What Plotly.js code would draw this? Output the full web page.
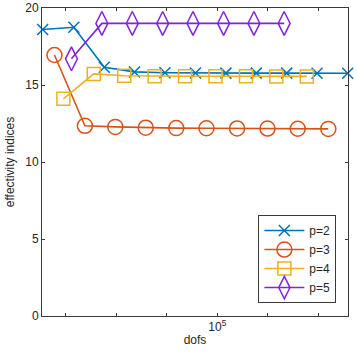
<!DOCTYPE html>
<html>
<head>
<meta charset="utf-8">
<script src="https://cdn.plot.ly/plotly-3.0.1.min.js"></script>
<style>
  html,body{margin:0;padding:0;background:#fff;}
  #chart{width:357px;height:357px;}
</style>
</head>
<body>
<div id="chart"></div>
<script>
// ===== data =====
const dofsP2 = [35, 145, 580, 2300, 9200, 37000, 148000, 590000, 2.36e6, 9.4e6, 3.8e7];
const effP2  = [18.6, 18.75, 16.15, 15.85, 15.8, 15.78, 15.77, 15.77, 15.77, 15.76, 15.76];

const dofsP3 = [60, 240, 960, 3840, 15400, 61000, 246000, 983000, 3.9e6, 1.57e7];
const effP3  = [16.95, 12.35, 12.28, 12.23, 12.2, 12.19, 12.18, 12.17, 12.16, 12.15];

const dofsP4 = [90, 360, 1440, 5760, 23000, 92000, 369000, 1.47e6, 5.9e6];
const effP4  = [14.1, 15.72, 15.6, 15.57, 15.57, 15.57, 15.57, 15.56, 15.56];

const dofsP5 = [130, 520, 2080, 8300, 33000, 133000, 530000, 2.1e6];
const effP5  = [16.7, 19.0, 19.0, 19.0, 19.0, 19.0, 19.0, 19.0];

const seriesNames = ['p=2', 'p=3', 'p=4', 'p=5'];
const xTickVals = [1e2, 1e3, 1e4, 1e5, 1e6, 1e7];
const xTickText = ['', '', '', '10<sup>5</sup>', '', ''];
const yTickVals = [0, 5, 10, 15, 20];

// ===== styling =====
const colors = ['#0072BD', '#D95319', '#EDB120', '#8024DA'];
const axisColor = '#3a3a3a';
const fam = 'Liberation Sans, Arial, Helvetica, sans-serif';
const txt = {family:fam, size:12, color:'#262626'};

function trace(x, y, name, color, symbol, size){
  return {
    type:'scatter', mode:'lines+markers', x, y, name,
    line:{color, width:1.6},
    marker:{symbol, size, color, line:{color, width:1.5}},
    cliponaxis:false
  };
}

const data = [
  trace(dofsP2, effP2, seriesNames[0], colors[0], 'x-thin-open', 11),
  trace(dofsP3, effP3, seriesNames[1], colors[1], 'circle-open', 15),
  trace(dofsP4, effP4, seriesNames[2], colors[2], 'square-open', 13),
  trace(dofsP5, effP5, seriesNames[3], colors[3], 'diamond-tall-open', 17)
];

const layout = {
  width:357, height:357,
  paper_bgcolor:'#fff', plot_bgcolor:'#fff',
  margin:{l:42, r:9, t:8, b:41},
  font:txt,
  showlegend:true,
  legend:{
    x:0.962, y:0.042, xanchor:'right', yanchor:'bottom',
    bgcolor:'#fff', bordercolor:axisColor, borderwidth:1,
    font:{family:fam, size:12, color:'#262626'},
    tracegroupgap:0, itemwidth:40
  },
  xaxis:{
    type:'log', range:[Math.log10(34), Math.log10(3.85e7)],
    tickmode:'array', tickvals:xTickVals, ticktext:xTickText,
    ticks:'inside', ticklen:3, tickcolor:axisColor, tickwidth:1,
    showline:true, linecolor:axisColor, linewidth:1, mirror:'ticks',
    showgrid:false, zeroline:false, automargin:false,
    tickfont:txt,
    title:{text:'dofs', font:txt, standoff:2}
  },
  yaxis:{
    range:[0, 20],
    tickmode:'array', tickvals:yTickVals,
    ticks:'inside', ticklen:3, tickcolor:axisColor, tickwidth:1,
    showline:true, linecolor:axisColor, linewidth:1, mirror:'ticks',
    showgrid:false, zeroline:false, automargin:false,
    tickfont:txt,
    title:{text:'effectivity indices', font:txt, standoff:8}
  }
};

Plotly.newPlot('chart', data, layout, {displayModeBar:false, staticPlot:true});
</script>
</body>
</html>
